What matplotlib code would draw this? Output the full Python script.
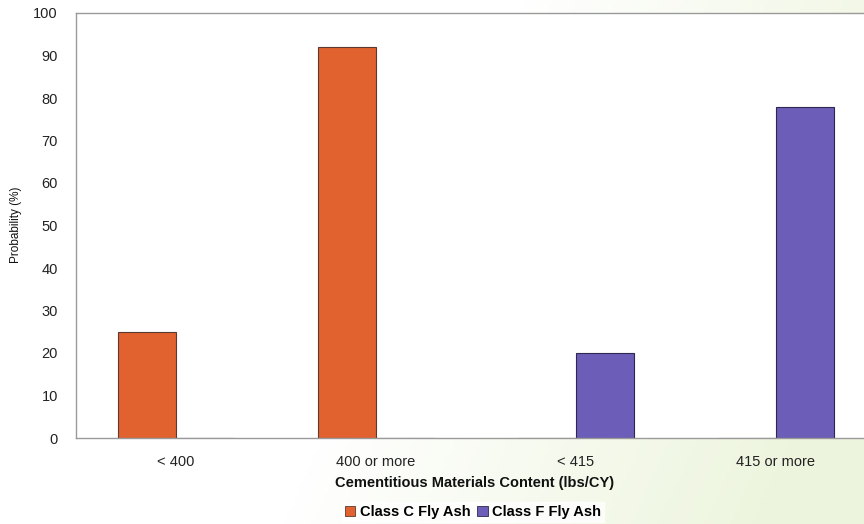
import numpy as np
import matplotlib
matplotlib.use("Agg")
import matplotlib.pyplot as plt
from matplotlib.patches import Patch

categories = ["< 400", "400 or more", "< 415", "415 or more"]
series_names = ["Class C Fly Ash", "Class F Fly Ash"]
class_c = [25, 92, 0, 0]
class_f = [0, 0, 20, 78]
yticks = [0, 10, 20, 30, 40, 50, 60, 70, 80, 90, 100]

colors = ["#E2622F", "#6B5DB8"]
plt.rcParams['font.family'] = ['Liberation Sans', 'DejaVu Sans']

W, H = 864, 524
fig = plt.figure(figsize=(W / 100, H / 100), dpi=100)

# background gradient (scanned paper tint)
bg = fig.add_axes([0, 0, 1, 1], zorder=-10)
xx, yy = np.meshgrid(np.linspace(0, 1, 200), np.linspace(0, 1, 120))
t = np.clip(1.8 * (xx - 0.55) + 0.5 * (yy - 0.2), 0, 1)
white = np.array([1.0, 1.0, 1.0])
green = np.array([0.93, 0.96, 0.87])
img = white[None, None, :] * (1 - t[..., None]) + green[None, None, :] * t[..., None]
bg.imshow(img, aspect='auto', extent=[0, 1, 0, 1], origin='upper')
bg.axis('off')

left, top, bottom = 76, 13, 438
ax = fig.add_axes([left / W, 1 - bottom / H, 800 / W, (bottom - top) / H])
ax.set_facecolor('white')

x = np.arange(len(categories))
w = 0.29
ax.bar(x - w / 2, class_c, w, color=colors[0], edgecolor='#5a3a30', linewidth=0.8, label=series_names[0])
ax.bar(x + w / 2, class_f, w, color=colors[1], edgecolor='#2e2850', linewidth=0.8, label=series_names[1])

ax.set_xlim(-0.5, 3.5)
ax.set_ylim(0, 100)
ax.set_yticks(yticks)
ax.set_yticklabels([str(v) for v in yticks], fontsize=10.5, color='#222222')
ax.set_xticks(x)
ax.set_xticklabels(categories, fontsize=10.5, color='#222222')
ax.tick_params(axis='both', length=0)
ax.tick_params(axis='y', pad=13)
ax.tick_params(axis='x', pad=12)
for s in ['left', 'bottom', 'top']:
    ax.spines[s].set_color('#9a9a9a')
    ax.spines[s].set_linewidth(1.0)
ax.spines['right'].set_visible(False)

fig.text(475 / W, 1 - 483 / H, "Cementitious Materials Content (lbs/CY)",
         ha='center', va='center', fontsize=10.5, fontweight='bold', color='#111111')
fig.text(16 / W, 1 - 225 / H, "Probability (%)", rotation=90,
         ha='center', va='center', fontsize=8.5, color='#111111')

handles = [Patch(facecolor=colors[0], edgecolor='#5a3a30', linewidth=0.6),
           Patch(facecolor=colors[1], edgecolor='#2e2850', linewidth=0.6)]
leg = fig.legend(handles, series_names, loc='center', bbox_to_anchor=(473 / W, 1 - 512 / H),
                 ncol=2, frameon=True, fontsize=10.5, handlelength=0.7, handleheight=0.7,
                 handletextpad=0.3, columnspacing=0.5, borderpad=0.2, fancybox=False)
leg.get_frame().set_facecolor('white')
leg.get_frame().set_edgecolor('white')
for txt in leg.get_texts():
    txt.set_fontweight('bold')

fig.savefig("out.png", dpi=100)
